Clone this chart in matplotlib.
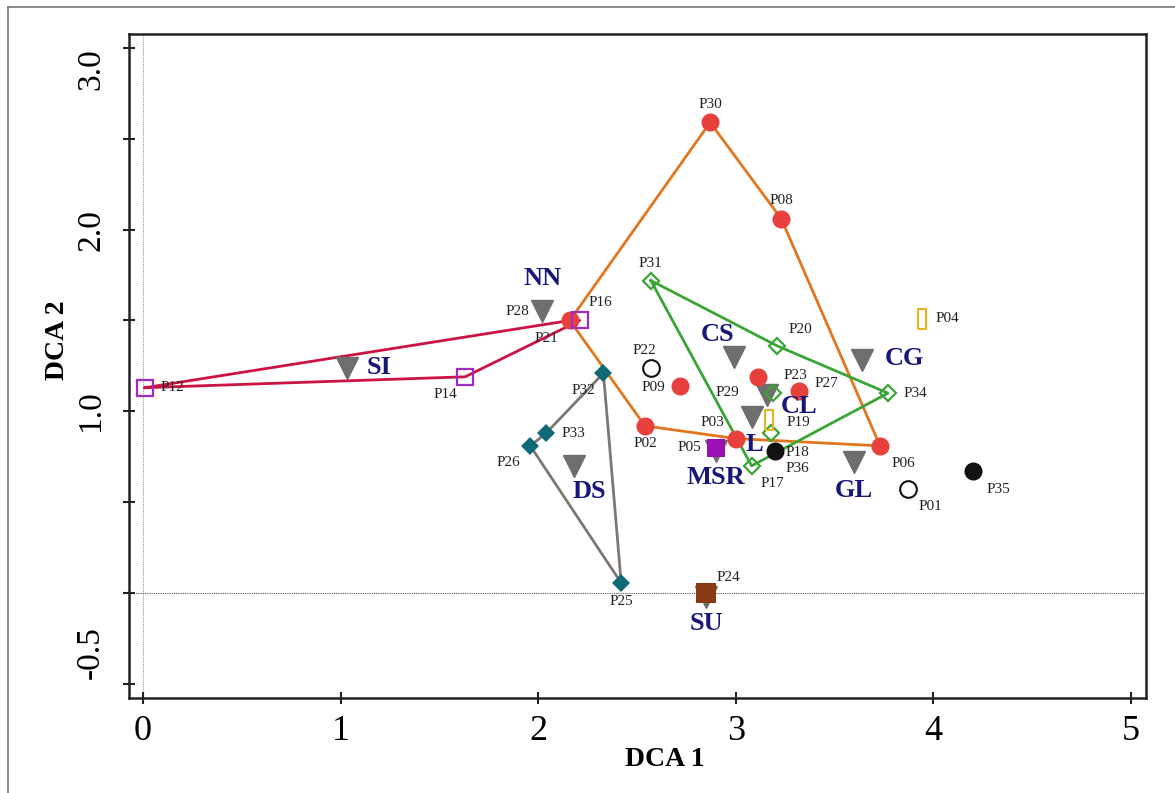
import matplotlib
matplotlib.use('Agg')
import matplotlib.pyplot as plt
from matplotlib.lines import Line2D
import matplotlib.transforms as mtransforms

plt.rcParams['font.family'] = ['Liberation Serif', 'DejaVu Serif']

# ---------------- data ----------------
red_sites = ['P21', 'P30', 'P08', 'P06', 'P03', 'P02', 'P09', 'P29', 'P27']
red_x = [2.16, 2.87, 3.23, 3.73, 3.00, 2.54, 2.72, 3.11, 3.32]
red_y = [1.50, 2.59, 2.06, 0.81, 0.85, 0.92, 1.14, 1.19, 1.11]

purple_sites = ['P12', 'P14', 'P16']
purple_x = [0.01, 1.63, 2.21]
purple_y = [1.13, 1.19, 1.50]

green_sites = ['P31', 'P20', 'P34', 'P17', 'P18', 'P23']
green_x = [2.57, 3.21, 3.77, 3.08, 3.18, 3.19]
green_y = [1.72, 1.36, 1.10, 0.70, 0.88, 1.10]

teal_sites = ['P32', 'P33', 'P26', 'P25']
teal_x = [2.33, 2.04, 1.96, 2.42]
teal_y = [1.21, 0.88, 0.81, 0.055]

yellow_sites = ['P04', 'P19']
yellow_x = [3.94, 3.17]
yellow_y = [1.51, 0.95]

black_sites = ['P36', 'P35']
black_x = [3.20, 4.20]
black_y = [0.78, 0.67]

open_sites = ['P22', 'P01']
open_x = [2.57, 3.87]
open_y = [1.24, 0.57]

msr_sites = ['P05']
msr_x = [2.90]
msr_y = [0.80]

su_sites = ['P24']
su_x = [2.85]
su_y = [0.0]

nn_sites = ['P28']
nn_x = [2.02]
nn_y = [1.55]

group_names = ['NN', 'SI', 'DS', 'CS', 'CG', 'CL', 'L', 'GL', 'MSR', 'SU']
group_x = [2.02, 1.03, 2.18, 2.99, 3.64, 3.16, 3.08, 3.60, 2.90, 2.85]
group_y = [1.55, 1.24, 0.70, 1.30, 1.28, 1.09, 0.97, 0.72, 0.78, -0.02]

orange_hull = ['P21', 'P30', 'P08', 'P06', 'P03', 'P02', 'P21']
red_hull = ['P12', 'P21', 'P16', 'P14', 'P12']
green_hull = ['P31', 'P20', 'P34', 'P17', 'P31']
gray_hull = ['P32', 'P33', 'P26', 'P25', 'P32']

x_ticks = [0, 1, 2, 3, 4, 5]
y_major = [3.0, 2.0, 1.0, -0.5]
y_minor = [2.5, 1.5, 0.5, 0.0]

# ---------------- layout (pixel offsets: dx right, dy down) ----------------
site_label_off = {
    'P12': (27, 0), 'P14': (-20, 18), 'P16': (21, -18), 'P21': (-23, 18),
    'P28': (-25, 0), 'P30': (0, -18), 'P08': (0, -18), 'P31': (0, -17),
    'P20': (23, -16), 'P04': (26, 0), 'P22': (-6, -17), 'P09': (-27, 2),
    'P02': (0, 18), 'P03': (-23, -16), 'P05': (-27, 0), 'P29': (-30, 16),
    'P23': (22, -18), 'P27': (27, -8), 'P34': (27, 0), 'P19': (29, 2),
    'P18': (26, 19), 'P36': (22, 17), 'P17': (21, 18), 'P06': (23, 18),
    'P01': (23, 17), 'P35': (25, 18), 'P32': (-20, 17), 'P33': (27, 0),
    'P26': (-22, 17), 'P25': (0, 18), 'P24': (22, -15),
}
group_label_off = {
    'NN': (0, -33), 'SI': (33, 0), 'DS': (16, 26), 'CS': (-16, -22),
    'CG': (42, -2), 'CL': (32, 12), 'L': (3, 28), 'MSR': (0, 26),
    'GL': (0, 28), 'SU': (0, 27),
}

W, H = 1175, 793
fig = plt.figure(figsize=(W / 100, H / 100), dpi=100)
ax = fig.add_axes([129 / W, 1 - 698 / H, (1146 - 129) / W, (698 - 34) / H])

ax.set_xlim(-0.071, 5.076)
ax.set_ylim(-0.578, 3.077)

# reference lines
ax.axvline(0, color='#999999', lw=0.8, ls=(0, (1, 1)), zorder=1)
ax.axhline(0, color='#555555', lw=0.8, ls=(0, (1, 1)), zorder=1)

coords = {}
for names, xs, ys in [(red_sites, red_x, red_y), (purple_sites, purple_x, purple_y),
                      (green_sites, green_x, green_y), (teal_sites, teal_x, teal_y),
                      (yellow_sites, yellow_x, yellow_y), (black_sites, black_x, black_y),
                      (open_sites, open_x, open_y), (msr_sites, msr_x, msr_y),
                      (su_sites, su_x, su_y), (nn_sites, nn_x, nn_y)]:
    for n, x, y in zip(names, xs, ys):
        coords[n] = (x, y)

def hull(names, color):
    ax.plot([coords[n][0] for n in names], [coords[n][1] for n in names],
            color=color, lw=2.0, zorder=2, solid_joinstyle='round')

hull(orange_hull, '#e2761f')
hull(red_hull, '#cc1442')
hull(green_hull, '#3aa535')
hull(gray_hull, '#7e7771')

# group centroids (grey triangles)
ax.plot(group_x, group_y, 'v', color='#6e6e6e', ms=16, zorder=3, ls='none')

# sites
ax.plot(red_x, red_y, 'o', color='#e8413d', ms=13, mew=0, ls='none', zorder=4)
ax.plot(purple_x, purple_y, 's', mfc='none', mec='#a02cc0', mew=1.6, ms=12, ls='none', zorder=4)
ax.plot(green_x, green_y, 'D', mfc='none', mec='#3aa535', mew=1.6, ms=8.5, ls='none', zorder=4)
ax.plot(teal_x, teal_y, 'D', color='#0f6a78', ms=9, mew=0, ls='none', zorder=4)
rect_marker = [(-0.45, -1), (0.45, -1), (0.45, 1), (-0.45, 1), (-0.45, -1)]
ax.plot(yellow_x, yellow_y, marker=rect_marker, mfc='none', mec='#e8b51c', mew=1.5, ms=14,
        ls='none', zorder=4)
ax.plot(black_x, black_y, 'o', color='#111111', ms=13, mew=0, ls='none', zorder=4)
ax.plot(open_x, open_y, 'o', mfc='white', mec='#111111', mew=1.5, ms=12, ls='none', zorder=4)
ax.plot(msr_x, msr_y, 's', color='#9a10b0', ms=13, mew=0, ls='none', zorder=4)
ax.plot(su_x, su_y, 's', color='#8a3a12', ms=14, mew=0, ls='none', zorder=4)

# site labels
for n, (x, y) in coords.items():
    dx, dy = site_label_off[n]
    ax.annotate(n, (x, y), xytext=(dx * 0.72, -dy * 0.72), textcoords='offset points',
                ha='center', va='center', fontsize=11, color='#222222', zorder=5)

# group labels
for n, x, y in zip(group_names, group_x, group_y):
    dx, dy = group_label_off[n]
    ax.annotate(n, (x, y), xytext=(dx * 0.72, -dy * 0.72), textcoords='offset points',
                ha='center', va='center', fontsize=19, fontweight='bold', color='#17177a',
                zorder=5)

# axes styling
for s in ax.spines.values():
    s.set_linewidth(1.8)
    s.set_color('#222222')
ax.set_xticks(x_ticks)
ax.set_xticklabels([str(t) for t in x_ticks], fontsize=26)
ax.set_yticks(y_major)
ax.set_yticklabels(['3.0', '2.0', '1.0', '-0.5'], fontsize=24, rotation=90, va='center')
ax.set_yticks(y_minor, minor=True)
ax.tick_params(axis='both', which='both', direction='inout', length=9, width=1.5,
               color='#222222')
ax.tick_params(axis='x', pad=8)
ax.tick_params(axis='y', which='major', pad=12)

# nudge end labels inward as in the reference
ylabels = ax.get_yticklabels()
shifts = {0: -21, 3: 31}
for i, px in shifts.items():
    off = mtransforms.ScaledTranslation(0, px / 100, fig.dpi_scale_trans)
    ylabels[i].set_transform(ylabels[i].get_transform() + off)

fig.text(665 / W, 1 - 760 / H, 'DCA 1', ha='center', va='center', fontsize=20,
         fontweight='bold')
fig.text(57 / W, 1 - 340 / H, 'DCA 2', ha='center', va='center', fontsize=20,
         fontweight='bold', rotation=90)

# outer frame
fig.add_artist(Line2D([8 / W, 8 / W], [0, 1 - 7 / H], transform=fig.transFigure,
                      color='#777777', lw=1.2))
fig.add_artist(Line2D([8 / W, 1], [1 - 7 / H, 1 - 7 / H], transform=fig.transFigure,
                      color='#777777', lw=1.2))

fig.savefig('out.png', dpi=100, facecolor='white')
